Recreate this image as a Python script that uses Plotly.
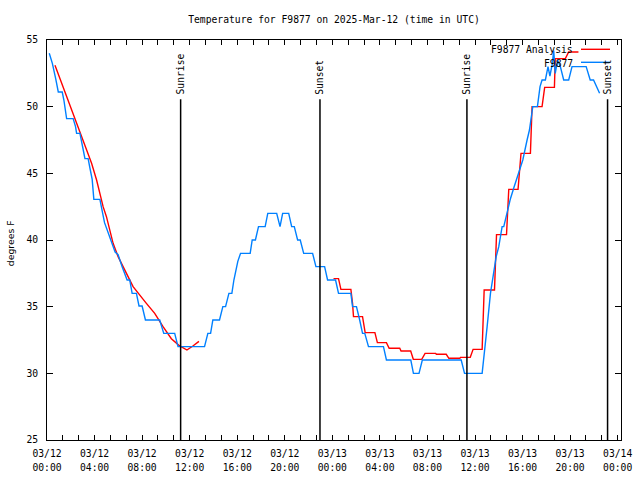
import plotly.graph_objects as go

# ---- data (hours since 03/12 00:00 UTC, degrees F) ----
obs_hours = [0.19, 0.45, 0.73, 0.95, 1.28, 1.42, 1.65, 2.2, 2.4, 2.49, 2.77, 2.91, 3.05, 3.19, 3.46,
             3.61, 3.80, 3.94, 4.45, 4.67, 4.84, 5.73, 5.98, 6.32, 6.74, 6.96, 7.16, 7.52, 7.74, 8.0,
             8.28, 9.48, 9.82, 10.74, 11.02, 13.25, 13.53, 13.76, 13.95, 14.51, 14.79, 15.02, 15.3,
             15.55, 15.72, 16.05, 16.28, 17.09, 17.26, 17.53, 17.79, 18.35, 18.57, 19.32, 19.6, 19.82,
             20.33, 20.58, 20.8, 21.08, 21.3, 21.59, 22.34, 22.62, 23.35, 23.6, 24.27, 24.52, 25.56,
             25.7, 26.03, 26.3, 26.54, 26.73, 27.04, 28.3, 28.55, 30.6, 30.82, 31.29, 31.57, 34.84,
             35.12, 36.6, 36.83, 37.02, 37.3, 37.58, 37.78, 38.0, 38.28, 38.42, 38.78, 38.98, 39.26,
             39.54, 39.75, 40.02, 40.16, 40.38, 40.58, 40.86, 41.25, 41.47, 41.64, 41.92, 42.14, 42.3,
             42.5, 42.62, 42.75, 42.95, 43.18, 43.46, 43.88, 44.16, 45.35, 45.69, 45.97, 46.48]
obs_temps = [54.0, 53.25, 52.1, 51.1, 51.1, 50.5, 49.1, 49.1, 48.5, 48.0, 48.0, 47.25, 46.75, 46.1, 46.1,
             45.4, 44.55, 43.05, 43.05, 42.05, 41.3, 39.1, 38.9, 38.0, 37.0, 37.0, 36.0, 36.0, 35.05, 35.05,
             34.0, 34.0, 33.0, 33.0, 32.0, 32.0, 33.0, 33.0, 34.0, 34.0, 35.0, 35.0, 36.0,
             36.0, 37.0, 38.4, 39.0, 39.0, 40.0, 40.0, 41.0, 41.0, 42.0, 42.0, 41.0, 42.0,
             42.0, 41.0, 41.0, 40.0, 40.0, 39.0, 39.0, 38.0, 38.0, 37.0, 37.0, 36.0, 36.0,
             35.0, 35.0, 34.0, 33.0, 33.0, 32.0, 32.0, 31.0, 31.0, 30.0, 30.0, 31.0, 31.0,
             30.0, 30.0, 31.75, 33.5, 36.0, 37.75, 38.75, 39.5, 41.0, 41.0, 42.5, 43.1, 43.9,
             44.75, 45.25, 46.0, 46.5, 47.5, 48.25, 50.0, 50.0, 51.5, 52.0, 52.0, 53.0, 52.3,
             53.2, 54.2, 52.5, 53.5, 53.0, 52.0, 52.0, 53.0, 53.0, 52.0, 52.0, 51.0]

ana_hours = [0.67, 1.09, 1.51, 2.07, 2.49, 2.91, 3.33, 3.75, 4.17, 4.45, 4.72, 5.0, 5.29, 5.56, 5.98,
             6.54, 7.24, 8.36, 9.06, 9.76, 10.46, 11.1, 11.43, 11.77, 12.27, 12.78, None,
             24.1, 24.52, 24.72, 25.56, 25.7, 25.78, 26.54, 26.76, 27.58, 27.79, 28.55, 28.78, 29.67,
             29.78, 30.59, 30.81, 31.52, 31.8, 32.69, 32.75, 33.58, 33.8, 34.73, 34.78, 35.6, 35.84,
             36.6, 36.77, 37.64, 37.81, 38.65, 38.84, 39.62, 39.87, 40.66, 40.8, 41.64, 41.86, 42.68,
             42.75, 43.6, 43.88, 44.7]
ana_temps = [53.1, 52.1, 51.25, 49.9, 48.9, 47.9, 46.9, 45.75, 44.5, 43.5, 42.5, 41.75, 40.75, 39.75, 38.75,
             37.75, 36.5, 35.25, 34.5, 33.5, 32.6, 32.1, 31.95, 31.75, 32.05, 32.4, None,
             37.1, 37.1, 36.3, 36.3, 35.25, 34.25, 34.25, 33.05, 33.05, 32.3, 32.3, 31.88, 31.88,
             31.67, 31.67, 31.05, 31.05, 31.5, 31.5, 31.43, 31.43, 31.13, 31.13, 31.2, 31.2, 31.8,
             31.8, 36.25, 36.25, 40.4, 40.4, 43.8, 43.8, 46.5, 46.5, 50.0, 50.0, 51.45, 51.45,
             53.6, 53.6, 54.1, 54.1]

sun_events = ["Sunrise", "Sunset", "Sunrise", "Sunset"]
sun_hours = [11.24, 22.96, 35.32, 47.15]

tick_hours = [0, 4, 8, 12, 16, 20, 24, 28, 32, 36, 40, 44, 48]
tick_dates = ["03/12", "03/12", "03/12", "03/12", "03/12", "03/12", "03/13",
              "03/13", "03/13", "03/13", "03/13", "03/13", "03/14"]
tick_times = ["00:00", "04:00", "08:00", "12:00", "16:00", "20:00", "00:00",
              "04:00", "08:00", "12:00", "16:00", "20:00", "00:00"]
y_ticks = [25, 30, 35, 40, 45, 50, 55]

title_text = "Temperature for F9877 on 2025-Mar-12 (time in UTC)"
series_names = ["F9877 Analysis", "F9877"]
series_colors = ["#ff0000", "#0080ff"]

MONO = "DejaVu Sans Mono"
FS = 9.7

# plot area in page pixels: x 47..621, y 40..440
PL, PR, PT, PB = 47, 621, 40, 440
def px(xpage):
    return (xpage - PL) / (PR - PL)
def py(ypage):
    return (PB - ypage) / (PB - PT)

fig = go.Figure()
fig.add_trace(go.Scatter(x=ana_hours, y=ana_temps, mode="lines", name=series_names[0],
                         line=dict(color=series_colors[0], width=1.4), connectgaps=False,
                         hoverinfo="skip"))
fig.add_trace(go.Scatter(x=obs_hours, y=obs_temps, mode="lines", name=series_names[1],
                         line=dict(color=series_colors[1], width=1.4), hoverinfo="skip"))
# carrier for the second row of x tick labels (times)
fig.add_trace(go.Scatter(x=[tick_hours[0]], y=[y_ticks[0]], xaxis="x2", mode="lines",
                         line=dict(width=0), showlegend=False, hoverinfo="skip"))

shapes = []
annotations = []
for name, h in zip(sun_events, sun_hours):
    shapes.append(dict(type="line", xref="x", yref="y", x0=h, x1=h, y0=25, y1=50.55,
                       line=dict(color="black", width=1.5)))
    annotations.append(dict(text=name, x=h, y=50.85, xref="x", yref="y", textangle=-90,
                            xanchor="center", yanchor="bottom", showarrow=False, borderpad=0,
                            font=dict(family=MONO, size=FS, color="black")))

# legend (gnuplot style: right-aligned text, sample line to the right)
leg_y_text = [py(49.5), py(63)]
leg_y_line = [py(49.3), py(62.3)]
for i in range(2):
    annotations.append(dict(text=series_names[i], xref="paper", yref="paper",
                            x=px(574), y=leg_y_text[i], xanchor="right", yanchor="middle",
                            showarrow=False, borderpad=0,
                            font=dict(family=MONO, size=FS, color="black")))
    shapes.append(dict(type="line", xref="paper", yref="paper",
                       x0=px(581), x1=px(610), y0=leg_y_line[i], y1=leg_y_line[i],
                       line=dict(color=series_colors[i], width=1.4)))

annotations.append(dict(text="degrees F", xref="paper", yref="paper", x=px(10.5),
                        y=py(243.7), textangle=-90, xanchor="center", yanchor="middle",
                        showarrow=False, font=dict(family="DejaVu Sans", size=9.3, color="black")))

minor_x = [i * 4 / 3 for i in range(37) if i % 3]
x_range = [0, 48.28]

fig.update_layout(
    width=640, height=480,
    margin=dict(l=PL, r=640 - PR, t=PT, b=480 - PB, pad=0, autoexpand=False),
    paper_bgcolor="white", plot_bgcolor="white",
    showlegend=False,
    title=dict(text=title_text, x=0.5, xref="paper", xanchor="center",
               y=1 - 19.5 / 480, yref="container", yanchor="middle", automargin=False,
               font=dict(family=MONO, size=FS, color="black")),
    shapes=shapes, annotations=annotations,
    xaxis=dict(range=x_range, tickmode="array", tickvals=tick_hours, ticktext=tick_dates,
               ticks="inside", ticklen=5, tickwidth=1, tickcolor="black", mirror="ticks",
               showline=True, linecolor="black", linewidth=1, showgrid=False, zeroline=False,
               ticklabelstandoff=4, automargin=False,
               minor=dict(tickmode="array", tickvals=minor_x, ticks="inside", ticklen=5,
                          tickwidth=1, tickcolor="black", showgrid=False),
               tickfont=dict(family=MONO, size=FS, color="black")),
    xaxis2=dict(range=x_range, overlaying="x", anchor="y", side="bottom",
                tickmode="array", tickvals=tick_hours, ticktext=tick_times,
                ticks="", showline=False, showgrid=False, zeroline=False,
                ticklabelstandoff=20, automargin=False,
                tickfont=dict(family=MONO, size=FS, color="black")),
    yaxis=dict(range=[25, 55], tickmode="array", tickvals=y_ticks,
               ticks="inside", ticklen=6, tickwidth=1, tickcolor="black", mirror="ticks",
               showline=True, linecolor="black", linewidth=1, showgrid=False, zeroline=False,
               ticklabelstandoff=6, automargin=False,
               tickfont=dict(family=MONO, size=FS, color="black")),
)

fig.write_html("out.html", config={"displayModeBar": False},
               post_script="document.body.style.margin='0';")
